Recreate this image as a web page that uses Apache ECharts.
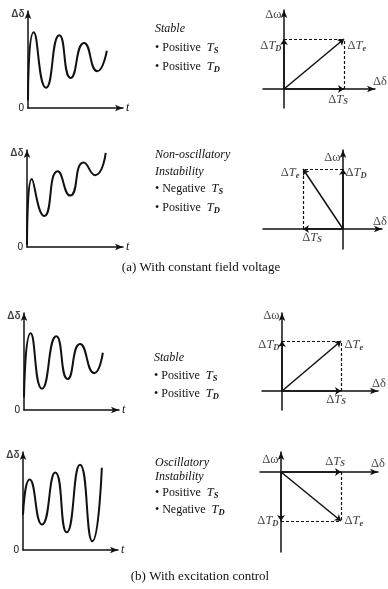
<!DOCTYPE html>
<html><head><meta charset="utf-8">
<script src="https://cdn.jsdelivr.net/npm/echarts@6/dist/echarts.min.js"></script>
<style>html,body{margin:0;padding:0;background:#fff}#c{width:388px;height:589px}</style>
</head><body><div id="c"></div>
<script>
// ---- Time responses: t (0–100) and Δδ (0–100) ----
const stableA_t = [0, 6, 19, 33, 45, 59, 73, 83];
const stableA_d = [8, 78, 21, 75, 31, 67, 38, 59];
const nonOsc_t  = [0, 5, 18, 32, 45, 59, 71, 82];
const nonOsc_d  = [2, 70, 32, 78, 53, 87, 74, 97];
const stableB_t = [0, 7, 19, 34, 46, 59, 74, 83];
const stableB_d = [13, 79, 22, 76, 32, 68, 38, 59];
const osc_t     = [0, 7, 20, 34, 46, 60, 73, 83];
const osc_d     = [36, 72, 26, 79, 18, 87, 9, 84];

// ---- Torque components for the phasor diagrams ----
const compTs = [6, -4, 5.9, 6];
const compTd = [5, 6, 5, -4.9];

// ---- Texts ----
const captionA = '(a) With constant field voltage';
const captionB = '(b) With excitation control';

const INK = '#111';
const SERIF = '"Liberation Serif","DejaVu Serif",serif';

// layout of the panels (pixels)
const timeGrids = [
  {left: 28, top: 11, width: 95, height: 97},
  {left: 27, top: 150, width: 96, height: 97},
  {left: 24, top: 313, width: 95, height: 97},
  {left: 23, top: 452, width: 95, height: 98}
];
const phGrids = [
  {left: 263, top: 10, width: 112, height: 98, x: [-2.1, 9.1], y: [-1.9, 7.9]},
  {left: 263, top: 150, width: 119, height: 99, x: [-8, 3.9], y: [-2, 7.9]},
  {left: 262, top: 313, width: 116, height: 97, x: [-2, 9.6], y: [-1.9, 7.8]},
  {left: 260, top: 452, width: 118, height: 100, x: [-2.1, 9.7], y: [-8, 2]}
];
// label placement per phasor diagram
const phLab = [
  {w: [0, 5], dd: [5, 3], te: ['right', [0, 7]], td: ['left', [0, 7]], ts: ['bottom', [-6, 0]]},
  {w: [0, 8], dd: [-2, 3], te: ['left', [0, 4]], td: ['right', [0, 4]], ts: ['bottom', [9, -2]]},
  {w: [0, 3], dd: [1, 3], te: ['right', [0, 4]], td: ['left', [0, 4]], ts: ['bottom', [-5, -2]]},
  {w: [0, 8], dd: [0, 2], te: ['right', [0, 0]], td: ['left', [0, 0]], ts: ['top', [-6, 0]]}
];

const rich = {
  d: {fontFamily: SERIF, fontSize: 12.5, color: INK},
  it: {fontFamily: SERIF, fontSize: 12.5, fontStyle: 'italic', color: INK},
  sub: {fontFamily: SERIF, fontSize: 8.5, fontStyle: 'italic', fontWeight: 'bold', color: INK, verticalAlign: 'bottom', padding: [5, 0, 0, 0]}
};

const grid = [], xAxis = [], yAxis = [], series = [];
const responses = [[stableA_t, stableA_d], [nonOsc_t, nonOsc_d], [stableB_t, stableB_d], [osc_t, osc_d]];
const axisLineStyle = {color: INK, width: 1.5};

timeGrids.forEach((g, i) => {
  grid.push({left: g.left, top: g.top, width: g.width, height: g.height});
  const idx = grid.length - 1;
  xAxis.push({
    gridIndex: idx, type: 'value', min: 0, max: 100,
    axisLine: {show: true, onZero: false, symbol: ['none', 'arrow'], symbolSize: [5, 8], lineStyle: axisLineStyle},
    axisTick: {show: false}, axisLabel: {show: false}, splitLine: {show: false},
    name: 't', nameLocation: 'end', nameGap: 3,
    nameTextStyle: {fontFamily: SERIF, fontStyle: 'italic', fontSize: 12, color: INK, verticalAlign: 'middle', padding: [2, 0, 0, 0]}
  });
  yAxis.push({
    gridIndex: idx, type: 'value', min: 0, max: 100, interval: 100,
    axisLine: {show: true, onZero: false, symbol: ['none', 'arrow'], symbolSize: [5, 8], lineStyle: axisLineStyle},
    axisTick: {show: false}, splitLine: {show: false},
    axisLabel: {show: true, margin: 4, fontFamily: 'Liberation Sans', fontSize: 10, color: INK,
      formatter: v => (v === 0 ? '0' : '')}
  });
  const [tt, dd] = responses[i];
  series.push({
    type: 'line', xAxisIndex: idx, yAxisIndex: idx, smooth: 0.6, symbol: 'none',
    lineStyle: {color: INK, width: 2}, silent: true,
    data: tt.map((t, k) => [t, dd[k]])
  });
  series.push({
    type: 'scatter', xAxisIndex: idx, yAxisIndex: idx, symbolSize: 1, itemStyle: {color: 'rgba(0,0,0,0)'}, silent: true,
    data: [{value: [0, 100]}],
    label: {show: true, position: 'left', distance: 3, offset: [0, 3], formatter: 'Δδ',
      fontFamily: 'Liberation Sans', fontSize: 10, fontWeight: 'bold', color: INK}
  });
});

phGrids.forEach((g, i) => {
  grid.push({left: g.left, top: g.top, width: g.width, height: g.height});
  const idx = grid.length - 1;
  xAxis.push({
    gridIndex: idx, type: 'value', min: g.x[0], max: g.x[1],
    axisLine: {show: true, onZero: true, symbol: ['none', 'arrow'], symbolSize: [5, 8], lineStyle: axisLineStyle},
    axisTick: {show: false}, axisLabel: {show: false}, splitLine: {show: false}
  });
  yAxis.push({
    gridIndex: idx, type: 'value', min: g.y[0], max: g.y[1],
    axisLine: {show: true, onZero: true, symbol: ['none', 'arrow'], symbolSize: [5, 8], lineStyle: axisLineStyle},
    axisTick: {show: false}, axisLabel: {show: false}, splitLine: {show: false}
  });
  const Ts = compTs[i], Td = compTd[i];
  series.push({
    type: 'lines', coordinateSystem: 'cartesian2d', xAxisIndex: idx, yAxisIndex: idx, silent: true,
    lineStyle: {color: INK, width: 1.2, type: [3, 2], opacity: 1},
    data: [{coords: [[0, Td], [Ts, Td]]}, {coords: [[Ts, 0], [Ts, Td]]}]
  });
  series.push({
    type: 'lines', coordinateSystem: 'cartesian2d', xAxisIndex: idx, yAxisIndex: idx, silent: true,
    symbol: ['none', 'arrow'], symbolSize: 6,
    lineStyle: {color: INK, width: 1.5, opacity: 1},
    data: [{coords: [[0, 0], [Ts, Td]]}, {coords: [[0, 0], [Ts, 0]]}, {coords: [[0, 0], [0, Td]]}]
  });
  const L = phLab[i];
  series.push({
    type: 'scatter', xAxisIndex: idx, yAxisIndex: idx, symbolSize: 1, itemStyle: {color: 'rgba(0,0,0,0)'}, silent: true,
    label: {show: true, color: INK, rich: rich},
    data: [
      {value: [0, g.y[1]], label: {position: 'left', distance: 2, offset: L.w, formatter: '{d|Δω}'}},
      {value: [g.x[1], 0], label: {position: 'top', distance: 3, offset: L.dd, formatter: '{d|Δδ}'}},
      {value: [Ts, Td], label: {position: L.te[0], distance: 3, offset: L.te[1], formatter: '{d|Δ}{it|T}{sub|e}'}},
      {value: [0, Td], label: {position: L.td[0], distance: 2, offset: L.td[1], formatter: '{d|Δ}{it|T}{sub|D}'}},
      {value: [Ts, 0], label: {position: L.ts[0], distance: 3, offset: L.ts[1], formatter: '{d|Δ}{it|T}{sub|S}'}}
    ]
  });
});

function txt(x, y, text, italic) {
  return {type: 'text', x: x, y: y, silent: true,
    style: {text: text, fill: INK, font: (italic ? 'italic ' : '') + '12px ' + SERIF,
      align: 'left', verticalAlign: 'middle', rich: rich}};
}

const graphic = [
  txt(155, 29, 'Stable', true),
  txt(155, 48, '• Positive  {it|T}{sub|S}'),
  txt(155, 67, '• Positive  {it|T}{sub|D}'),
  txt(155, 155, 'Non-oscillatory', true),
  txt(155, 172, 'Instability', true),
  txt(155, 189, '• Negative  {it|T}{sub|S}'),
  txt(155, 208, '• Positive  {it|T}{sub|D}'),
  txt(154, 358, 'Stable', true),
  txt(154, 376, '• Positive  {it|T}{sub|S}'),
  txt(154, 394, '• Positive  {it|T}{sub|D}'),
  txt(155, 463, 'Oscillatory', true),
  txt(155, 477, 'Instability', true),
  txt(155, 493, '• Positive  {it|T}{sub|S}'),
  txt(155, 510, '• Negative  {it|T}{sub|D}'),
  {type: 'text', x: 201, y: 268, silent: true, style: {text: captionA, fill: INK, font: '13px ' + SERIF, align: 'center', verticalAlign: 'middle'}},
  {type: 'text', x: 200, y: 577, silent: true, style: {text: captionB, fill: INK, font: '13px ' + SERIF, align: 'center', verticalAlign: 'middle'}}
];

const chart = echarts.init(document.getElementById('c'), null, {renderer: 'canvas'});
chart.setOption({animation: false, backgroundColor: '#fff', grid, xAxis, yAxis, series, graphic});
</script>
</body></html>
